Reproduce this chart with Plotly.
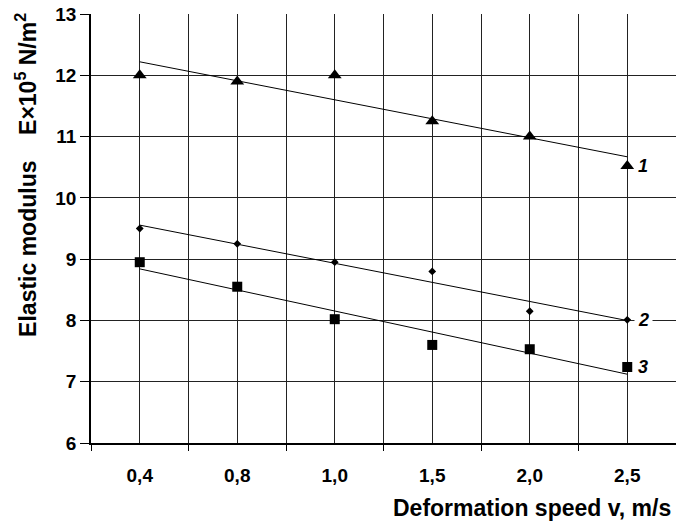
import numpy as np
import plotly.graph_objects as go

# ---- data ----
categories = ["0,4", "0,8", "1,0", "1,5", "2,0", "2,5"]
series1 = [12.0, 11.9, 12.0, 11.25, 11.0, 10.52]   # triangles, curve 1
series2 = [9.5, 9.25, 8.95, 8.8, 8.15, 8.01]       # diamonds, curve 2
series3 = [8.95, 8.55, 8.02, 7.6, 7.53, 7.24]      # squares, curve 3
series_labels = ["1", "2", "3"]
y_ticks = [6, 7, 8, 9, 10, 11, 12, 13]

x_pos = list(range(len(categories)))
FONT = "Liberation Sans"
GRID = "#222222"

fig = go.Figure()

def trend(vals):
    k, b = np.polyfit(x_pos, vals, 1)
    return [k * x + b for x in x_pos]

for vals, sym, size in [(series1, "triangle-up", 12), (series2, "diamond", 6), (series3, "square", 10)]:
    fig.add_trace(go.Scatter(x=x_pos, y=trend(vals), mode="lines",
                             line=dict(color="black", width=1), hoverinfo="skip",
                             showlegend=False))
    fig.add_trace(go.Scatter(x=x_pos, y=vals, mode="markers",
                             marker=dict(symbol=sym, size=size, color="black"),
                             showlegend=False, cliponaxis=False))

for lab, vals in zip(series_labels, [series1, series2, series3]):
    fig.add_annotation(x=x_pos[-1], y=vals[-1], text="<b><i>" + lab + "</i></b>",
                       showarrow=False,
                       xanchor="left", yanchor="middle", xshift=7,
                       bgcolor="white", borderpad=3,
                       font=dict(family=FONT, size=18, color="black"))

# axis titles
fig.add_annotation(xref="paper", yref="paper", x=1.0, y=-0.152, xshift=-3,
                   text="<b>Deformation speed v, m/s</b>", showarrow=False,
                   xanchor="right", yanchor="middle",
                   font=dict(family=FONT, size=23, color="black"))
fig.add_annotation(xref="paper", yref="paper", x=0, xshift=-65, y=0.625,
                   text="<b>Elastic modulus \u00a0\u00a0\u00a0E\u00d710<sup>5</sup> N/m<sup>2</sup></b>",
                   textangle=-90, showarrow=False,
                   xanchor="center", yanchor="middle",
                   font=dict(family=FONT, size=23, color="black"))

fig.update_layout(
    width=676, height=523,
    margin=dict(l=91, r=0, t=14, b=80),
    plot_bgcolor="white", paper_bgcolor="white",
    showlegend=False,
    font=dict(family=FONT, color="black"),
    xaxis=dict(
        range=[-0.5, len(categories) - 0.5],
        tickmode="array",
        tickvals=x_pos, ticktext=["<b>" + c + "</b>" for c in categories],
        ticks="", showgrid=True, gridcolor=GRID, gridwidth=1,
        showline=True, linecolor="black", linewidth=1.5,
        zeroline=False,
        ticklabelstandoff=14,
        tickfont=dict(family=FONT, size=19, color="black", weight="bold"),
        minor=dict(tick0=-0.5, dtick=1, ticks="outside", ticklen=6,
                   tickcolor="black", showgrid=True, gridcolor=GRID, gridwidth=1),
    ),
    yaxis=dict(
        range=[6, 13], tickmode="array", tickvals=y_ticks,
        ticktext=["<b>" + str(v) + "</b>" for v in y_ticks],
        ticks="outside", ticklen=9, tickcolor="black",
        showgrid=True, gridcolor=GRID, gridwidth=1,
        showline=True, linecolor="black", linewidth=1.5,
        zeroline=False,
        tickfont=dict(family=FONT, size=19, color="black", weight="bold"),
    ),
)

fig.write_html("out.html")
